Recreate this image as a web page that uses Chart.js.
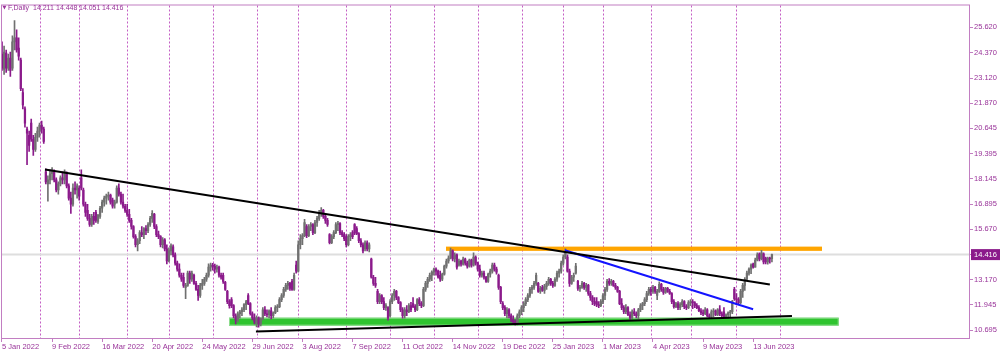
<!DOCTYPE html>
<html>
<head>
<meta charset="utf-8">
<script src="https://cdn.jsdelivr.net/npm/chart.js@4.4.1/dist/chart.umd.min.js"></script>
<style>
  html, body { margin: 0; padding: 0; background: #fff; }
  #wrap { position: relative; width: 1000px; height: 352px; }
</style>
</head>
<body>
<div id="wrap"><canvas id="chart" width="1000" height="352"></canvas></div>
<script>
// F, Daily — one candle per trading day, index 0 = 5 Jan 2022
const opens = [
  24.30,23.55,24.35,23.60,24.10,23.60,24.90,25.10,24.60,24.00,
  22.40,21.60,20.60,20.30,20.90,20.10,19.60,20.20,20.50,20.80,
  20.60,18.50,17.90,18.10,18.40,18.50,18.10,17.60,17.90,18.20,
  18.10,18.40,17.80,17.20,16.90,17.70,17.60,17.70,18.20,17.60,
  16.90,16.60,16.20,15.90,16.30,16.50,16.05,16.30,16.70,17.00,
  17.20,17.30,17.35,17.10,16.90,17.00,17.70,17.40,17.00,16.80,
  16.60,16.40,16.10,15.80,15.30,14.90,15.10,15.50,15.40,15.70,
  15.60,15.90,16.20,16.40,15.80,15.40,15.30,14.90,15.15,14.70,
  14.10,14.60,14.80,14.40,14.00,13.70,13.40,13.30,12.80,12.90,
  13.50,13.20,13.40,13.00,12.70,12.40,12.90,13.00,13.20,13.40,
  13.80,13.90,13.85,13.70,13.80,13.40,13.40,13.05,12.60,12.10,
  12.20,11.90,11.40,11.20,11.50,11.60,11.70,11.95,12.40,12.00,
  11.50,11.30,11.10,11.30,11.00,11.25,11.70,11.50,11.45,11.65,
  11.40,11.55,11.80,11.85,12.20,12.40,12.70,12.90,13.00,13.10,
  12.70,13.90,13.60,14.90,15.20,15.35,15.80,15.35,15.80,15.90,
  15.50,16.00,16.20,16.50,16.60,16.30,16.10,15.40,15.00,15.30,
  15.50,15.90,15.95,15.50,15.40,15.30,14.90,15.30,15.50,15.90,
  15.70,15.45,15.10,14.90,14.70,15.00,14.70,14.20,13.30,13.00,
  12.60,12.10,12.40,12.10,11.80,11.80,11.40,12.10,12.40,12.60,
  12.30,12.05,11.70,11.40,11.70,11.60,11.90,12.00,11.85,11.70,
  12.20,12.00,11.90,12.70,13.00,13.20,13.40,13.55,13.70,13.60,
  13.40,13.20,13.45,13.85,14.10,14.25,14.60,14.20,14.40,13.90,
  14.10,13.95,14.20,14.00,13.85,14.15,13.90,14.30,14.00,13.70,
  13.40,13.50,13.30,13.10,13.45,13.60,13.90,13.70,13.40,12.80,
  12.00,11.80,11.50,11.70,11.40,11.20,11.10,11.00,11.40,11.60,
  11.80,12.00,12.20,12.40,12.70,12.80,13.00,13.00,12.60,12.80,
  12.65,12.85,13.00,13.20,13.00,12.90,13.20,13.50,13.60,14.00,
  14.30,14.30,13.60,13.00,13.30,13.50,13.10,12.75,12.80,13.00,
  12.80,12.90,12.50,12.30,12.10,12.10,11.95,11.90,12.10,12.40,
  12.70,13.10,13.00,13.10,12.90,12.80,12.60,12.00,11.80,11.60,
  11.80,11.45,11.30,11.60,11.50,11.40,11.70,11.90,12.00,12.20,
  12.50,12.70,12.60,12.80,12.40,12.60,12.95,12.70,12.55,12.75,
  12.60,12.50,12.10,11.85,12.00,11.80,11.95,12.10,11.85,11.80,
  12.05,12.10,12.05,11.90,11.80,11.65,11.55,11.50,11.70,11.40,
  11.35,11.60,11.65,11.45,11.70,11.50,11.60,11.35,11.45,11.55,
  11.60,12.70,12.25,12.20,12.05,12.60,12.90,13.20,13.50,13.70,
  13.95,13.80,14.15,14.45,14.20,14.45,14.25,14.05,14.25,14.211
];
const highs = [
  24.90,24.70,24.50,24.30,24.40,25.20,25.95,25.50,25.10,24.10,
  22.60,21.70,20.70,20.50,21.10,20.30,20.40,20.70,20.90,21.00,
  20.70,18.65,18.30,18.60,18.70,18.60,18.20,18.00,18.30,18.50,
  18.60,18.50,17.90,17.50,17.90,18.00,17.90,17.80,18.60,17.70,
  17.00,16.90,16.40,16.40,16.50,16.60,16.40,16.80,17.10,17.30,
  17.40,17.50,17.40,17.20,17.10,17.80,17.90,17.50,17.40,16.90,
  16.90,16.65,16.20,15.85,15.40,15.20,15.60,15.80,15.75,15.85,
  16.00,16.30,16.58,16.45,15.90,15.57,15.35,15.25,15.20,14.90,
  14.75,14.95,14.90,14.50,14.10,13.96,13.50,13.50,13.00,13.60,
  13.60,13.60,13.45,13.10,12.90,13.00,13.20,13.30,13.50,13.96,
  14.00,13.98,13.95,13.90,13.85,13.50,13.50,13.10,12.65,12.20,
  12.30,11.95,11.50,11.60,11.67,11.80,12.00,12.16,12.50,12.05,
  11.60,11.50,11.40,11.35,11.30,11.80,11.85,11.70,11.70,11.80,
  11.60,11.90,11.95,12.30,12.50,12.80,13.00,13.10,13.05,13.20,
  13.50,14.10,15.10,15.40,15.45,16.16,15.90,15.90,16.00,15.95,
  16.10,16.30,16.60,16.74,16.65,16.40,16.20,15.45,15.40,15.60,
  16.00,16.06,16.00,15.60,15.50,15.40,15.40,15.50,15.60,15.95,
  15.80,15.50,15.20,15.00,15.10,15.10,15.00,14.25,13.40,13.30,
  12.70,12.50,12.45,12.30,12.00,11.85,12.20,12.50,12.70,12.65,
  12.35,12.10,11.80,11.80,11.90,12.00,12.06,12.30,11.95,12.25,
  12.30,12.10,12.80,13.10,13.30,13.50,13.62,13.75,13.77,13.65,
  13.60,13.50,13.90,14.20,14.35,14.74,14.65,14.50,14.45,14.20,
  14.15,14.30,14.25,14.10,14.20,14.20,14.50,14.35,14.05,13.90,
  13.60,13.60,13.35,13.50,13.70,14.00,14.00,13.80,13.45,12.85,
  12.10,11.90,11.80,11.75,11.50,11.40,11.20,11.50,11.70,11.90,
  12.10,12.30,12.50,12.80,12.90,13.10,13.50,13.05,12.85,12.90,
  12.95,13.10,13.30,13.25,13.10,13.28,13.60,13.70,14.10,14.40,
  14.70,14.40,13.70,13.40,13.50,13.98,13.15,12.90,13.10,13.05,
  13.00,12.95,12.60,12.40,12.30,12.30,12.10,12.20,12.50,12.80,
  13.20,13.23,13.20,13.15,13.00,12.85,12.65,12.25,11.90,11.95,
  11.85,11.60,11.70,11.75,11.60,11.77,12.00,12.06,12.30,12.60,
  12.80,12.80,12.90,12.85,12.70,13.08,13.00,12.80,12.80,12.80,
  12.70,12.55,12.20,12.06,12.10,12.05,12.20,12.15,11.95,12.15,
  12.20,12.20,12.10,12.00,11.90,11.75,11.70,11.80,11.75,11.50,
  11.70,11.75,11.70,11.75,11.90,11.60,11.80,11.50,11.60,11.67,
  12.16,12.80,12.50,12.30,12.70,13.00,13.28,13.60,13.77,13.96,
  14.00,14.25,14.50,14.50,14.63,14.50,14.30,14.30,14.30,14.448
];
const lows = [
  23.50,23.30,23.40,23.50,23.20,23.50,24.50,24.40,24.00,22.50,
  21.60,20.70,18.85,19.50,20.00,19.30,19.50,20.00,20.20,20.40,
  19.90,17.90,17.05,17.90,18.10,18.00,17.50,17.40,17.80,17.90,
  17.90,17.70,17.10,16.45,16.80,17.40,17.20,17.10,17.60,16.80,
  16.30,16.10,15.80,15.80,15.90,16.00,15.95,16.20,16.50,16.80,
  16.90,17.10,16.90,16.70,16.70,16.95,17.30,16.90,16.70,16.50,
  16.30,16.00,15.67,15.23,14.80,14.60,14.95,15.30,15.20,15.40,
  15.50,15.80,16.00,15.70,15.30,15.20,14.80,14.75,14.60,13.96,
  14.05,14.40,14.30,13.90,13.60,13.30,13.10,12.80,12.25,12.85,
  13.00,13.10,12.95,12.65,12.16,12.30,12.70,12.90,13.10,13.30,
  13.60,13.65,13.50,13.55,13.30,13.20,13.00,12.65,12.00,11.77,
  11.80,11.30,11.00,11.10,11.28,11.40,11.60,11.70,11.95,11.43,
  11.20,11.00,10.85,10.84,10.90,11.20,11.40,11.35,11.30,11.25,
  11.30,11.50,11.60,11.80,12.10,12.30,12.60,12.70,12.65,12.65,
  12.65,13.50,13.55,14.70,14.90,15.30,15.25,15.30,15.60,15.40,
  15.45,15.80,16.10,16.30,16.20,15.95,15.80,14.94,14.95,15.20,
  15.45,15.60,15.40,15.30,15.10,14.80,14.85,15.10,15.20,15.40,
  15.40,15.00,14.80,14.50,14.60,14.60,14.55,13.25,12.90,12.80,
  12.00,12.00,12.00,11.70,11.67,11.18,11.35,12.00,12.16,12.20,
  12.00,11.60,11.28,11.28,11.40,11.55,11.60,11.80,11.60,11.65,
  11.90,11.80,11.85,12.60,12.80,13.10,13.13,13.40,13.40,13.25,
  13.10,13.13,13.40,13.75,14.00,14.20,14.10,14.05,13.70,13.85,
  13.85,13.90,13.90,13.75,13.80,13.80,13.85,13.90,13.60,13.30,
  13.30,13.20,13.04,13.05,13.30,13.50,13.60,13.45,12.70,12.00,
  11.70,11.40,11.30,11.30,11.10,11.00,10.94,10.95,11.30,11.45,
  11.60,11.90,12.10,12.30,12.50,12.70,12.90,12.55,12.50,12.60,
  12.50,12.70,12.90,12.90,12.80,12.85,13.10,13.30,13.50,13.90,
  14.20,13.55,12.85,12.95,13.10,13.45,12.65,12.60,12.75,12.70,
  12.60,12.40,12.16,11.95,11.90,11.85,11.80,11.85,12.00,12.20,
  12.60,12.90,12.90,12.85,12.70,12.55,11.95,11.70,11.50,11.50,
  11.40,11.18,11.25,11.40,11.30,11.20,11.60,11.70,11.90,12.10,
  12.40,12.40,12.50,12.50,12.20,12.55,12.60,12.45,12.50,12.55,
  12.45,12.00,11.77,11.80,11.70,11.70,11.85,11.75,11.70,11.75,
  11.90,11.75,11.80,11.75,11.60,11.45,11.40,11.45,11.35,11.28,
  11.30,11.35,11.40,11.40,11.40,11.33,11.30,11.28,11.28,11.35,
  11.50,12.16,11.95,11.95,12.00,12.30,12.65,13.13,13.40,13.48,
  13.75,13.80,14.11,14.10,14.15,13.96,13.96,13.95,14.00,14.051
];
const closes = [
  23.60,24.40,23.60,24.10,23.50,24.90,25.10,24.50,24.20,22.60,
  21.80,20.90,20.40,19.80,20.10,19.60,20.20,20.50,20.80,20.60,
  20.00,18.00,18.10,18.40,18.50,18.10,17.60,17.90,18.20,18.10,
  18.50,17.80,17.20,16.90,17.70,17.60,17.80,17.30,17.70,16.90,
  16.50,16.20,15.90,16.30,16.10,16.10,16.35,16.70,17.00,17.20,
  17.30,17.35,17.00,16.80,17.00,17.70,17.40,17.00,16.80,16.60,
  16.40,16.10,15.80,15.30,14.90,15.10,15.50,15.40,15.70,15.60,
  15.90,16.20,16.45,15.80,15.40,15.30,14.90,15.15,14.70,14.10,
  14.60,14.85,14.40,14.00,13.70,13.40,13.20,12.90,12.90,13.50,
  13.20,13.50,13.00,12.70,12.40,12.90,13.00,13.20,13.40,13.80,
  13.90,13.85,13.70,13.80,13.40,13.30,13.10,12.70,12.10,11.90,
  11.90,11.40,11.20,11.50,11.60,11.70,11.95,12.10,12.00,11.50,
  11.30,11.10,11.30,11.00,11.25,11.70,11.50,11.45,11.65,11.40,
  11.55,11.80,11.85,12.20,12.40,12.70,12.90,13.00,12.75,12.70,
  13.40,13.60,14.90,15.20,15.35,16.00,15.35,15.80,15.90,15.50,
  16.00,16.20,16.50,16.60,16.30,16.10,15.90,15.00,15.30,15.50,
  15.90,15.95,15.50,15.40,15.20,14.90,15.30,15.40,15.30,15.50,
  15.45,15.10,14.90,14.60,15.00,14.70,14.90,13.30,13.00,12.90,
  12.10,12.40,12.10,11.80,11.90,11.30,12.10,12.40,12.60,12.30,
  12.05,11.70,11.40,11.70,11.60,11.90,11.70,11.85,11.70,12.20,
  12.00,11.90,12.70,13.00,13.20,13.40,13.55,13.70,13.60,13.30,
  13.20,13.45,13.85,14.10,14.25,14.60,14.20,14.40,13.80,14.10,
  13.95,14.20,14.00,13.85,14.15,13.90,14.30,14.00,13.70,13.40,
  13.50,13.30,13.10,13.45,13.60,13.90,13.70,13.55,12.80,12.10,
  11.80,11.50,11.70,11.40,11.20,11.10,11.00,11.40,11.60,11.80,
  12.00,12.20,12.40,12.70,12.80,13.00,13.40,12.60,12.75,12.65,
  12.85,13.00,13.20,13.00,12.90,13.20,13.50,13.60,14.00,14.30,
  14.55,13.60,13.00,13.30,13.40,13.85,12.75,12.80,13.00,12.80,
  12.90,12.50,12.30,12.10,12.00,11.95,11.90,12.10,12.40,12.70,
  13.10,13.00,13.10,12.90,12.80,12.60,12.00,11.80,11.60,11.80,
  11.45,11.30,11.60,11.50,11.40,11.70,11.90,12.00,12.20,12.50,
  12.70,12.60,12.80,12.60,12.60,12.95,12.70,12.55,12.75,12.60,
  12.50,12.10,11.85,12.00,11.80,11.95,12.10,11.85,11.80,12.05,
  12.10,12.05,11.90,11.80,11.65,11.55,11.50,11.70,11.40,11.35,
  11.60,11.65,11.45,11.70,11.50,11.40,11.35,11.45,11.55,11.60,
  12.10,12.25,12.20,12.05,12.60,12.90,13.20,13.50,13.70,13.90,
  13.80,14.15,14.40,14.20,14.50,14.05,14.05,14.25,14.20,14.416
];

// axes
const yTicks = [10.695, 11.945, 13.170, 14.416, 15.670, 16.895, 18.145, 19.395, 20.645, 21.870, 23.120, 24.370, 25.620];
const curPrice = 14.416;
const dateLabels = ["5 Jan 2022", "9 Feb 2022", "16 Mar 2022", "20 Apr 2022", "24 May 2022", "29 Jun 2022",
  "3 Aug 2022", "7 Sep 2022", "11 Oct 2022", "14 Nov 2022", "19 Dec 2022", "25 Jan 2023",
  "1 Mar 2023", "4 Apr 2023", "9 May 2023", "13 Jun 2023"];
const labelIdx = [0, 24, 48, 72, 96, 120, 144, 168, 192, 216, 240, 264, 288, 312, 336, 360];
const monthStarts = [18, 37, 60, 80, 101, 122, 142, 165, 186, 207, 228, 249, 269, 288, 311, 330, 352, 373];

// header: symbol + last bar O H L C
const headerText = "F,Daily";
const headerVals = ["14.211", "14.448", "14.051", "14.416"];

// drawn objects (bar index, price)
const trendDown = [{ x: 20.6, y: 18.61 }, { x: 368, y: 12.94 }];
const trendBlue = [{ x: 269.8, y: 14.63 }, { x: 360, y: 11.72 }];
const trendUp = [{ x: 121.7, y: 10.622 }, { x: 378.6, y: 11.39 }];
const zoneOrange = [212.8, 393, 14.60, 14.81];
const zoneGreen = [108.8, 401, 10.915, 11.305];

const PURPLE = "#993399";
const FRAME = "#c27ec2";
const BULL = "#707070";
const BEAR = "#8b1a8b";
const FONT = "'Liberation Sans', Arial, sans-serif";

const idx = closes.map((_, i) => i);
function candleColor(i){ return closes[i] >= opens[i] ? BULL : BEAR; }

const mt4Decor = {
  id: "mt4Decor",
  beforeDatasetsDraw(chart){
    const { ctx, chartArea: a, scales: { x, y } } = chart;
    ctx.save();
    // period separators
    ctx.strokeStyle = "#c45ec4";
    ctx.lineWidth = 1;
    ctx.setLineDash([2, 2]);
    for (const m of monthStarts){
      const px = Math.round(x.getPixelForValue(m)) + 0.5;
      if (px < a.left || px > a.right) continue;
      ctx.beginPath();
      ctx.moveTo(px, a.top);
      ctx.lineTo(px, a.bottom);
      ctx.stroke();
    }
    ctx.setLineDash([]);
    // rectangles
    const rect = (z, fill, edge) => {
      const x0 = x.getPixelForValue(z[0]), x1 = x.getPixelForValue(z[1]);
      const y0 = y.getPixelForValue(z[3]), y1 = y.getPixelForValue(z[2]);
      ctx.fillStyle = fill;
      ctx.fillRect(x0, y0, x1 - x0, y1 - y0);
      if (edge){
        ctx.strokeStyle = edge;
        ctx.strokeRect(x0 + 0.5, y0 + 0.5, x1 - x0 - 1, y1 - y0 - 1);
      }
    };
    rect(zoneGreen, "#2fc42f", "#8fdc8f");
    rect(zoneOrange, "#ffa500", null);
    ctx.restore();
  },
  afterDraw(chart){
    const { ctx, chartArea: a } = chart;
    ctx.save();
    ctx.strokeStyle = FRAME;
    ctx.lineWidth = 1;
    ctx.strokeRect(a.left + 0.5, a.top - 0.5, a.right - a.left - 1, a.bottom - a.top);
    // symbol header
    ctx.fillStyle = PURPLE;
    ctx.textBaseline = "alphabetic";
    ctx.font = "5px 'DejaVu Sans'";
    ctx.fillText("▼", 2.5, 8.5);
    ctx.font = "7px " + FONT;
    ctx.fillText(headerText, 8, 9.5);
    headerVals.forEach((v, i) => ctx.fillText(v, 33 + i * 23, 9.5));
    ctx.restore();
  }
};

new Chart(document.getElementById("chart"), {
  type: "bar",
  data: {
    datasets: [
      { type: "line", data: trendDown, borderColor: "#000", borderWidth: 2, pointRadius: 0, order: 0 },
      { type: "line", data: trendUp, borderColor: "#000", borderWidth: 2, pointRadius: 0, order: 0 },
      { type: "line", data: trendBlue, borderColor: "#1414ff", borderWidth: 2, pointRadius: 0, order: 0 },
      {
        data: idx.map(i => ({ x: i, y: [opens[i], closes[i]] })),
        backgroundColor: c => candleColor(c.dataIndex),
        barThickness: 1.6, minBarLength: 1, grouped: false, order: 1
      },
      {
        data: idx.map(i => ({ x: i, y: [lows[i], highs[i]] })),
        backgroundColor: c => candleColor(c.dataIndex),
        barThickness: 1, grouped: false, order: 2
      },
      {
        type: "line", data: [{ x: -1, y: curPrice }, { x: 470, y: curPrice }],
        borderColor: "#dedede", borderWidth: 2, pointRadius: 0, order: 3
      }
    ]
  },
  options: {
    responsive: false,
    animation: false,
    events: [],
    layout: { padding: { left: 1, top: 2, right: 0, bottom: 0 } },
    plugins: { legend: { display: false }, tooltip: { enabled: false } },
    scales: {
      x: {
        type: "linear",
        offset: false,
        min: -0.479,
        max: 463.93,
        afterBuildTicks: s => { s.ticks = labelIdx.map(v => ({ value: v })); },
        afterFit: s => { s.height = 13; },
        border: { display: false },
        grid: { offset: false, drawOnChartArea: false, drawTicks: true, tickLength: 3, color: FRAME },
        ticks: {
          autoSkip: false, maxRotation: 0, align: "start", padding: 0,
          color: PURPLE, font: { family: FONT, size: 7.5 },
          callback: (v, i) => dateLabels[i]
        }
      },
      y: {
        type: "linear",
        position: "right",
        min: 10.256,
        max: 26.695,
        afterBuildTicks: s => { s.ticks = yTicks.map(v => ({ value: v })); },
        afterFit: s => { s.width = 30; },
        border: { display: false },
        grid: { drawOnChartArea: false, drawTicks: true, tickLength: 3, color: FRAME },
        ticks: {
          padding: 1,
          font: { family: FONT, size: 7.5 },
          color: c => (c.tick && c.tick.value === curPrice) ? "#fff" : PURPLE,
          showLabelBackdrop: c => !!(c.tick && c.tick.value === curPrice),
          backdropColor: BEAR,
          backdropPadding: { top: 1, bottom: 1, left: 3, right: 4 },
          callback: v => v.toFixed(3)
        }
      }
    }
  },
  plugins: [mt4Decor]
});
</script>
</body>
</html>
